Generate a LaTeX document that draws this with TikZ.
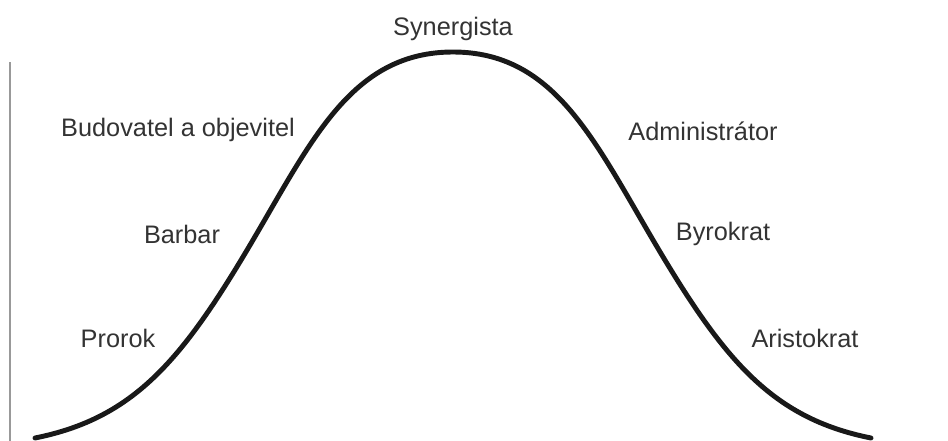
\documentclass[tikz,border=0pt]{standalone}
\usepackage{fontspec}
\setmainfont{Liberation Sans}
\usepackage{xcolor}
\usetikzlibrary{positioning}

\begin{document}
\begin{tikzpicture}[
  x=0.025cm, y=-0.025cm,
  stage/.style={anchor=base, inner sep=0pt, text=black!80,
                font=\fontsize{18}{20}\selectfont},
  curve/.style={line width=3.5pt, black!90, line cap=round},
  axis/.style={line width=1.3pt, gray!80}
]
  \useasboundingbox (0,0) rectangle (948,441);

  % life cycle curve
  \draw[curve] (35,438) .. controls (135,418) and (183,359) .. (253,240)
                        .. controls (313,138) and (353,52) .. (453,52)
                        .. controls (553,52) and (593,138) .. (653,240)
                        .. controls (723,359) and (771,418) .. (871,438);
  \draw[axis] (10,62) -- (10,441);

  \node[stage] (syn) at (453,35)  {Synergista};
  \node[stage] (bud) at (178,136) {Budovatel a objevitel};
  \node[stage] (bar) at (182,243) {Barbar};
  \node[stage] (pro) at (118,347) {Prorok};
  \node[stage] (adm) at (703,140) {Administrátor};
  \node[stage] (byr) at (723,240) {Byrokrat};
  \node[stage] (ari) at (805,347) {Aristokrat};
\end{tikzpicture}
\end{document}
